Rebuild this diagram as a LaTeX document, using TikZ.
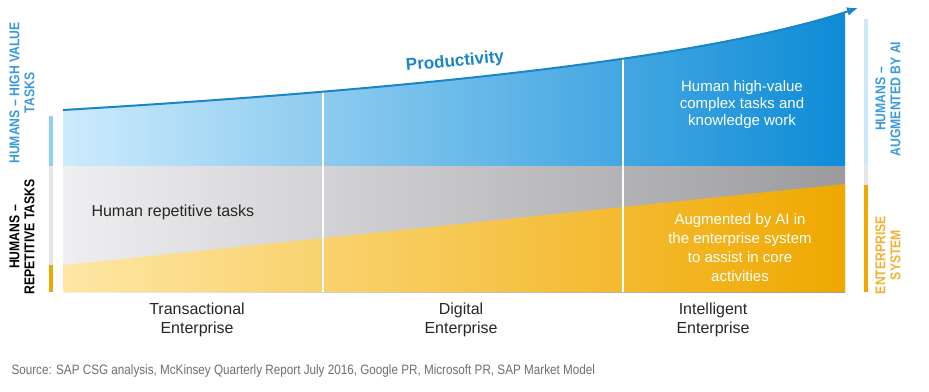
\documentclass[tikz,border=0pt]{standalone}
\usepackage{fontspec}
\setmainfont{Liberation Sans}
\newfontfamily\narrowsf[FakeStretch=0.86]{Liberation Sans}
\usetikzlibrary{arrows.meta, positioning}

\definecolor{skyblue}{HTML}{CDEBFC}
\definecolor{sapblue}{HTML}{0A8AD6}
\definecolor{sapline}{HTML}{1A86C8}
\definecolor{labelblue}{HTML}{3A9BDC}
\definecolor{barblue}{HTML}{8FD0F5}
\definecolor{palebar}{HTML}{CCE9FB}
\definecolor{lightgray}{HTML}{EFEFF1}
\definecolor{midgray}{HTML}{9B9B9D}
\definecolor{bargray}{HTML}{E6E6E8}
\definecolor{paleyellow}{HTML}{FEE7A5}
\definecolor{sapgold}{HTML}{EFA800}
\definecolor{labelgold}{HTML}{F2B233}
\definecolor{sourcegray}{HTML}{6E6E6E}

\begin{document}
\begin{tikzpicture}[x=1pt, y=-1pt]
\tikzset{side/.style={rotate=90, align=center, font=\narrowsf\bfseries\fontsize{14.2}{15}\selectfont},
		band/.style={align=center, font=\fontsize{15}{17}\selectfont},
		era/.style={align=center, text=black!85, font=\fontsize{16}{19}\selectfont},
		bar/.style={line width=4pt},
		divider/.style={white, line width=2pt}}
\useasboundingbox (0,0) rectangle (929,391);

% corners of the chart
\coordinate (p0) at (63,110);
\coordinate (p3) at (858,8);
\coordinate (bl) at (63,292);
\coordinate (br) at (845,292);

% productivity area
\begin{scope}
\clip (63,0) rectangle (845,166);
\shade[left color=skyblue, right color=sapblue] (63,166) -- (p0) .. controls (400,90) and (700,60) .. (p3) -- (858,166) -- cycle;
\end{scope}
\shade[left color=lightgray, right color=midgray] (63,166) rectangle (br);
\shade[left color=paleyellow, right color=sapgold] (63,265) -- (845,184) -- (br) -- (bl) -- cycle;

\draw[divider] (323,80) -- (323,292);
\draw[divider] (623,45) -- (623,292);
\draw[sapline, line width=2pt, -{Latex[length=11pt, width=9pt]}] (p0) .. controls (400,90) and (700,60) .. (p3);

% side bars
\draw[bar, barblue] (51,116) -- (51,166);
\draw[bar, bargray] (51,166) -- (51,265);
\draw[bar, sapgold] (51,265) -- (51,292);
\draw[bar, palebar] (866,19) -- (866,165);
\draw[bar, bargray] (866,165) -- (866,185);
\draw[bar, sapgold] (866,185) -- (866,292);

\node[side, text=labelblue] (HV) at (22,93) {HUMANS – HIGH VALUE\\TASKS};
\node[side, text=black] (HR) at (22,237) {HUMANS –\\REPETITIVE TASKS};
\node[side, text=labelblue] (HA) at (888,99) {HUMANS –\\AUGMENTED BY AI};
\node[side, text=labelgold] (ES) at (888,255) {ENTERPRISE\\SYSTEM};

\node[text=sapline, rotate=5, font=\bfseries\fontsize{17}{19}\selectfont] (prod) at (455,62) {Productivity};
\node[band, text=white] (high) at (742,105) {Human high-value\\complex tasks and\\knowledge work};
\node[band, text=black!85, anchor=west, font=\fontsize{16}{18}\selectfont] (rep) at (88,212) {Human repetitive tasks};
\node[band, text=white, font=\fontsize{15}{19}\selectfont] (ai) at (740,248) {Augmented by AI in\\the enterprise system\\to assist in core\\activities};

\node[era] (TE) at (197,320) {Transactional\\Enterprise};
\node[era] (DE) at (461,320) {Digital\\Enterprise};
\node[era] (IE) at (713,320) {Intelligent\\Enterprise};

\node[anchor=west, text=sourcegray, font=\narrowsf\fontsize{13.6}{15}\selectfont] (src) at (8,371) {Source: SAP CSG analysis, McKinsey Quarterly Report July 2016, Google PR, Microsoft PR, SAP Market Model};
\end{tikzpicture}
\end{document}
